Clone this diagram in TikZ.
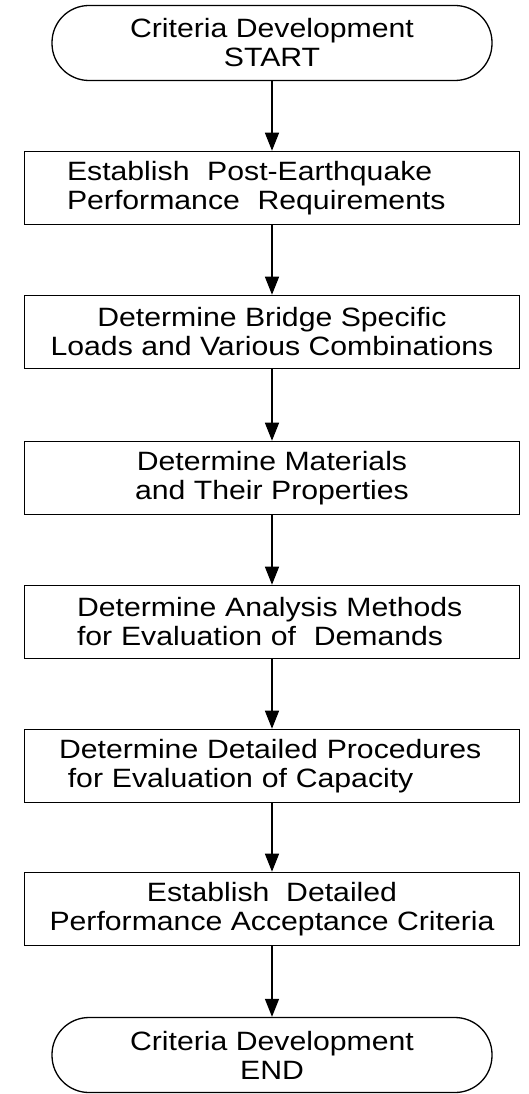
\documentclass[tikz,border=0pt]{standalone}
\usepackage{fontspec}
\setmainfont{Liberation Sans}[FakeStretch=1.14]
\usetikzlibrary{arrows.meta}

\tikzset{
  stepbox/.style={draw,line width=1.6pt,minimum width=495pt,minimum height=73pt,inner sep=2pt,
    font=\fontsize{26.5}{29}\selectfont},
  termbox/.style={stepbox,minimum width=440pt,minimum height=75pt,rounded corners=37pt,line width=1.3pt},
  flow/.style={-{Triangle[length=18pt,width=14pt]},line width=1.4pt}
}

\begin{document}
\begin{tikzpicture}[x=1pt,y=-1pt]
  \useasboundingbox (0,0) rectangle (528,1094);

  \node[termbox,align=center] (start) at (272,43) {Criteria Development\\START};
  \node[stepbox,text width=410pt,align=left] (perf) at (272,188) {Establish~ Post-Earthquake\\Performance~ Requirements};
  \node[stepbox,align=center] (loads) at (272,332) {Determine Bridge Specific\\Loads and Various Combinations};
  \node[stepbox,align=center] (mat) at (272,478) {Determine Materials\\and Their Properties};
  \node[stepbox,text width=390pt,align=left] (demand) at (272,622) {Determine Analysis Methods\\for Evaluation of~ Demands};
  \node[stepbox,text width=426pt,align=left] (capac) at (272,766) {Determine Detailed Procedures\\\ for Evaluation of Capacity};
  \node[stepbox,align=center] (accept) at (272,909) {Establish~ Detailed\\Performance Acceptance Criteria};
  \node[termbox,align=center] (end) at (272,1055) {Criteria Development\\END};

  \draw[flow] (start) -- (perf);
  \draw[flow] (perf) -- (loads);
  \draw[flow] (loads) -- (mat);
  \draw[flow] (mat) -- (demand);
  \draw[flow] (demand) -- (capac);
  \draw[flow] (capac) -- (accept);
  \draw[flow] (accept) -- (end);
\end{tikzpicture}
\end{document}
